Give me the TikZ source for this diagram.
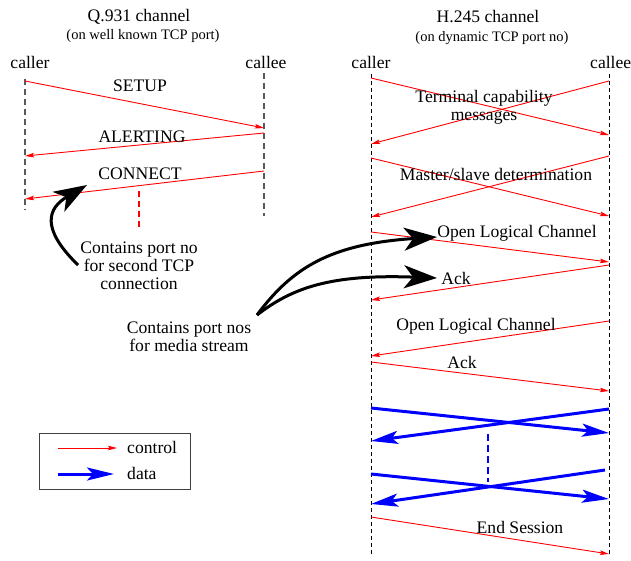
\documentclass[tikz,border=0pt]{standalone}
\usepackage{fontspec}
\setmainfont{Liberation Serif}
\usetikzlibrary{arrows.meta}
\tikzset{
  big/.style={font=\fontsize{17.6}{19}\selectfont, inner sep=0pt},
  small/.style={font=\fontsize{14.5}{16}\selectfont, inner sep=0pt},
  note/.style={font=\fontsize{17.6}{18}\selectfont, inner sep=0pt, align=center},
  ctrl/.style={red, line width=0.9pt, -{Stealth[length=9pt,width=4.5pt,inset=1.5pt]}},
  datamsg/.style={blue, line width=3pt, -{Stealth[length=27pt,width=13pt,inset=6pt]}},
  pointer/.style={black, line width=3pt, -{Stealth[length=33pt,width=23pt,inset=9pt]}},
  lifegrey/.style={black!65, line width=1.4pt, dash pattern=on 6pt off 4pt},
  lifeblack/.style={black, line width=0.9pt, dash pattern=on 4pt off 3pt},
}
\begin{document}
\begin{tikzpicture}[x=1pt,y=-1pt]
\useasboundingbox (0,0) rectangle (631,561);

% ---------- Q.931 channel ----------
\node[big] (qtitle) at (139,17) {Q.931 channel};
\node[small] (qsub) at (143,36) {(on well known TCP port)};
\node[big] (qcaller) at (30,62) {caller};
\node[big] (qcallee) at (266,62) {callee};

\coordinate (qa0) at (25,79);  \coordinate (qa1) at (25,210);
\coordinate (qb0) at (264,73); \coordinate (qb1) at (264,216);
\draw[lifegrey] (qa0) -- (qa1);
\draw[lifegrey] (qb0) -- (qb1);

\coordinate (s0) at (25,81);   \coordinate (s1) at (264,128);
\coordinate (al0) at (264,133); \coordinate (al1) at (25,156);
\coordinate (c0) at (264,171); \coordinate (c1) at (25,199);
\draw[ctrl] (s0) -- (s1);
\draw[ctrl] (al0) -- (al1);
\draw[ctrl] (c0) -- (c1);
\node[big] (setup) at (140,86) {SETUP};
\node[big] (alerting) at (142,137) {ALERTING};
\node[big] (connect) at (140,174) {CONNECT};

\coordinate (sep0) at (139,191); \coordinate (sep1) at (139,227);
\draw[red, line width=1.4pt, dash pattern=on 6pt off 4pt] (sep0) -- (sep1);

\node[note] (portno) at (139,266) {Contains port no\\for second TCP\\connection};
\coordinate (pn0) at (78,265); \coordinate (pn1) at (87,185);
\draw[pointer] (pn0) .. controls (40,228) and (48,208) .. (pn1);

% ---------- H.245 channel ----------
\node[big] (htitle) at (488,17) {H.245 channel};
\node[small] (hsub) at (492,38) {(on dynamic TCP port no)};
\node[big] (hcaller) at (371,62) {caller};
\node[big, anchor=west] (hcallee) at (590,62) {callee};

\coordinate (ha0) at (371,74); \coordinate (ha1) at (371,556);
\coordinate (hb0) at (609,74); \coordinate (hb1) at (609,556);
\draw[lifeblack] (ha0) -- (ha1);
\draw[lifeblack] (hb0) -- (hb1);

% terminal capability exchange
\coordinate (t0) at (371,78);  \coordinate (t1) at (609,135);
\coordinate (t2) at (609,81);  \coordinate (t3) at (371,144);
\draw[ctrl] (t0) -- (t1);
\draw[ctrl] (t2) -- (t3);
\node[note] (termcap) at (484,107) {Terminal capability\\messages};

% master/slave determination
\coordinate (m0) at (371,158); \coordinate (m1) at (609,216);
\coordinate (m2) at (609,156); \coordinate (m3) at (371,217);
\draw[ctrl] (m0) -- (m1);
\draw[ctrl] (m2) -- (m3);
\node[big] (master) at (496,174) {Master/slave determination};

% logical channels
\coordinate (o0) at (371,232); \coordinate (o1) at (609,262);
\coordinate (k0) at (609,265); \coordinate (k1) at (371,300);
\coordinate (o2) at (609,321); \coordinate (o3) at (371,356);
\coordinate (k2) at (371,362); \coordinate (k3) at (609,391);
\draw[ctrl] (o0) -- (o1);
\draw[ctrl] (k0) -- (k1);
\draw[ctrl] (o2) -- (o3);
\draw[ctrl] (k2) -- (k3);
\node[big] (olc1) at (517,233) {Open Logical Channel};
\node[big] (ack1) at (456,278) {Ack};
\node[big] (olc2) at (476,326) {Open Logical Channel};
\node[big] (ack2) at (462,362) {Ack};

% media streams
\coordinate (d0) at (371,408); \coordinate (d1) at (609,433);
\coordinate (d2) at (609,409); \coordinate (d3) at (371,441);
\coordinate (d4) at (371,474); \coordinate (d5) at (609,499);
\coordinate (d6) at (605,470); \coordinate (d7) at (371,504);
\draw[datamsg] (d0) -- (d1);
\draw[datamsg] (d2) -- (d3);
\draw[datamsg] (d4) -- (d5);
\draw[datamsg] (d6) -- (d7);
\coordinate (bs0) at (488,434); \coordinate (bs1) at (488,482);
\draw[blue, line width=1.2pt, dash pattern=on 7pt off 4pt] (bs0) -- (bs1);

% end of session
\coordinate (e0) at (371,517); \coordinate (e1) at (609,554);
\draw[ctrl] (e0) -- (e1);
\node[big] (endsess) at (520,527) {End Session};

% media port annotation
\node[note] (portnos) at (189,337) {Contains port nos\\for media stream};
\coordinate (mp0) at (257,315);
\coordinate (mp1) at (437,237);
\coordinate (mp2) at (437,278);
\draw[pointer] (mp0) .. controls (292,268) and (330,244) .. (mp1);
\draw[pointer] (mp0) .. controls (292,288) and (330,274) .. (mp2);

% ---------- legend ----------
\node[draw=black!75, line width=1pt, minimum width=151pt, minimum height=56pt, inner sep=0pt] (legend) at (114.5,461) {};
\coordinate (lc0) at (58,448); \coordinate (lc1) at (117,448);
\coordinate (ld0) at (58,474); \coordinate (ld1) at (114,474);
\draw[ctrl] (lc0) -- (lc1);
\draw[datamsg] (ld0) -- (ld1);
\node[big, anchor=west] (lctrl) at (127,447) {control};
\node[big, anchor=west] (ldata) at (127,473) {data};
\end{tikzpicture}
\end{document}
